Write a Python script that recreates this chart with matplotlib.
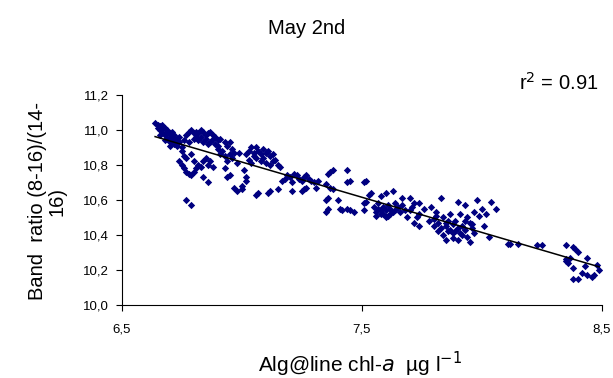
import numpy as np
import matplotlib
matplotlib.use("Agg")
import matplotlib.pyplot as plt

plt.rcParams['font.family'] = ['Liberation Sans', 'DejaVu Sans']

# ---- data (x = Alg@line chl-a, y = band ratio) ----
xa = [6.64, 6.65, 6.66, 6.66, 6.67, 6.68, 6.67, 6.69, 6.70, 6.68, 6.71, 6.70, 6.72,
      6.73, 6.71, 6.74, 6.72, 6.66, 6.69, 6.73, 6.75, 6.70, 6.74, 6.76, 6.75,
      6.65, 6.67, 6.69, 6.71, 6.73, 6.68, 6.70, 6.72]
ya = [11.04, 11.03, 11.02, 11.00, 11.03, 11.01, 10.99, 11.00, 10.98, 10.97, 10.99, 10.96, 10.97,
      10.95, 10.94, 10.93, 10.92, 10.97, 10.95, 10.91, 10.90, 10.91, 10.96, 10.94, 10.88,
      11.01, 11.01, 10.98, 10.97, 10.93, 10.94, 10.93, 10.95]

xb = [6.77, 6.78, 6.79, 6.80, 6.81, 6.82, 6.83, 6.84, 6.85, 6.86, 6.87, 6.88, 6.89,
      6.90, 6.91, 6.89, 6.87, 6.93, 6.95, 6.94, 6.80, 6.82, 6.84, 6.86, 6.78,
      6.90, 6.92, 6.91, 6.93, 6.95, 6.96, 6.94, 6.97, 6.99, 6.98, 6.96,
      6.81, 6.83, 6.85, 6.88, 6.90]
yb = [10.97, 10.99, 11.00, 10.98, 10.99, 10.98, 11.00, 10.99, 10.97, 10.98, 10.99, 10.97, 10.96,
      10.94, 10.95, 10.92, 10.93, 10.93, 10.93, 10.91, 10.95, 10.94, 10.93, 10.92, 10.93,
      10.89, 10.88, 10.86, 10.85, 10.86, 10.84, 10.82, 10.87, 10.87, 10.81, 10.89,
      10.96, 10.96, 10.95, 10.95, 10.91]

xc = [6.74, 6.75, 6.76, 6.77, 6.78, 6.79, 6.80, 6.81, 6.82, 6.84, 6.86, 6.85, 6.80,
      6.84, 6.86, 6.88, 6.77, 6.79, 6.77, 6.79, 6.93, 6.94, 6.95, 6.98, 6.97,
      6.76, 6.83, 6.87]
yc = [10.82, 10.80, 10.78, 10.76, 10.75, 10.74, 10.76, 10.78, 10.80, 10.82, 10.80, 10.84, 10.82,
      10.73, 10.70, 10.79, 10.84, 10.86, 10.60, 10.57, 10.78, 10.73, 10.74, 10.65, 10.67,
      10.85, 10.79, 10.82]

xd = [7.02, 7.03, 7.04, 7.05, 7.06, 7.07, 7.08, 7.09, 7.10, 7.11, 7.12, 7.13, 7.14,
      7.06, 7.08, 7.10, 7.12, 7.04, 7.15, 7.16, 7.03,
      7.01, 7.02, 7.02, 7.00, 7.00, 7.06, 7.07, 7.11, 7.12, 7.15, 7.21, 7.25, 7.26, 7.27,
      7.05, 7.09, 7.13]
yd = [10.86, 10.88, 10.90, 10.87, 10.90, 10.88, 10.86, 10.89, 10.87, 10.88, 10.85, 10.86, 10.83,
      10.84, 10.82, 10.81, 10.80, 10.81, 10.80, 10.79, 10.83,
      10.77, 10.71, 10.73, 10.66, 10.68, 10.63, 10.64, 10.64, 10.65, 10.66, 10.65, 10.65, 10.66, 10.67,
      10.85, 10.84, 10.82]

xe = [7.17, 7.18, 7.19, 7.20, 7.22, 7.23, 7.24, 7.26, 7.28, 7.29, 7.30, 7.31, 7.32,
      7.35, 7.36, 7.37, 7.38, 7.21, 7.35, 7.36, 7.35, 7.36, 7.25, 7.27]
ye = [10.71, 10.72, 10.74, 10.73, 10.75, 10.74, 10.72, 10.73, 10.72, 10.71, 10.70, 10.67, 10.71,
      10.69, 10.75, 10.76, 10.77, 10.70, 10.60, 10.61, 10.53, 10.55, 10.71, 10.74]

xf = [7.44, 7.44, 7.45, 7.37, 7.38, 7.40, 7.41, 7.42, 7.44, 7.45, 7.47, 7.51, 7.52,
      7.53, 7.54, 7.51, 7.52, 7.51,
      7.55, 7.56, 7.57, 7.58, 7.59, 7.60, 7.61, 7.62, 7.63, 7.57, 7.59, 7.61, 7.56,
      7.60, 7.58, 7.60, 7.63, 7.64, 7.65, 7.67, 7.70, 7.68, 7.70, 7.69, 7.72, 7.74,
      7.72, 7.74, 7.66, 7.71, 7.58, 7.62, 7.64, 7.67]
yf = [10.77, 10.70, 10.71, 10.67, 10.66, 10.60, 10.55, 10.54, 10.55, 10.54, 10.53, 10.70, 10.71,
      10.63, 10.64, 10.58, 10.59, 10.54,
      10.56, 10.53, 10.55, 10.52, 10.56, 10.54, 10.51, 10.55, 10.53, 10.58, 10.52, 10.57, 10.51,
      10.50, 10.62, 10.64, 10.65, 10.58, 10.56, 10.61, 10.61, 10.54, 10.54, 10.50, 10.58, 10.58,
      10.47, 10.45, 10.53, 10.56, 10.54, 10.52, 10.54, 10.57]

xg = [7.73, 7.74, 7.76, 7.79, 7.83, 7.81, 7.80, 7.82, 7.84, 7.85, 7.86, 7.87, 7.88,
      7.89, 7.90, 7.91, 7.92, 7.93, 7.84, 7.86, 7.83, 7.85, 7.88, 7.90, 7.92, 7.94,
      7.95, 7.96, 7.97, 7.90, 7.93, 7.98, 8.04, 8.06, 7.99, 8.01, 8.03, 7.87, 7.94,
      7.97, 8.00, 8.02, 7.80, 7.82, 7.89, 7.91, 7.95, 8.11,
      7.78, 7.81, 7.85, 7.88, 7.93, 7.96]
yg = [10.50, 10.52, 10.55, 10.56, 10.61, 10.51, 10.49, 10.47, 10.50, 10.45, 10.48, 10.43, 10.46,
      10.42, 10.44, 10.41, 10.45, 10.43, 10.40, 10.42, 10.44, 10.37, 10.38, 10.37, 10.40, 10.39,
      10.47, 10.46, 10.41, 10.59, 10.57, 10.60, 10.59, 10.55, 10.51, 10.45, 10.39, 10.52, 10.50,
      10.53, 10.55, 10.52, 10.45, 10.42, 10.48, 10.52, 10.36, 10.35,
      10.48, 10.53, 10.47, 10.41, 10.48, 10.44]

xh = [8.12, 8.15, 8.23, 8.25, 8.35, 8.38, 8.39, 8.40, 8.44, 8.35, 8.36, 8.35, 8.37,
      8.38, 8.43, 8.48, 8.49, 8.42, 8.44, 8.38, 8.40, 8.46, 8.47]
yh = [10.35, 10.35, 10.34, 10.34, 10.34, 10.33, 10.32, 10.30, 10.27, 10.26, 10.24, 10.25, 10.27,
      10.21, 10.22, 10.23, 10.20, 10.18, 10.17, 10.15, 10.15, 10.16, 10.17]

xticks = [6.5, 7.5, 8.5]
xtick_labels = ["6,5", "7,5", "8,5"]
yticks = [10.0, 10.2, 10.4, 10.6, 10.8, 11.0, 11.2]
ytick_labels = ["10,0", "10,2", "10,4", "10,6", "10,8", "11,0", "11,2"]
r2_text = "r$^2$ = 0.91"

x = np.array(xa + xb + xc + xd + xe + xf + xg + xh)
y = np.array(ya + yb + yc + yd + ye + yf + yg + yh)

fig = plt.figure(figsize=(6.13, 3.78), dpi=100)
ax = fig.add_axes([121.5 / 613, 1 - 305 / 378, 480 / 613, 210 / 378])

ax.scatter(x, y, marker='D', s=14, color='#000080', linewidths=0, zorder=2)

slope, intercept = np.polyfit(x, y, 1)
xl = np.array([x.min(), x.max()])
ax.plot(xl, slope * xl + intercept, color='black', lw=1.1, zorder=3)

ax.set_xlim(6.5, 8.5)
ax.set_ylim(10.0, 11.2)
ax.set_xticks(xticks)
ax.set_xticklabels(xtick_labels)
ax.set_yticks(yticks)
ax.set_yticklabels(ytick_labels)
for s in ['top', 'right']:
    ax.spines[s].set_visible(False)
for s in ['left', 'bottom']:
    ax.spines[s].set_linewidth(0.8)
ax.tick_params(axis='both', direction='out', length=4, width=0.8, labelsize=9.5)
ax.tick_params(axis='x', pad=9)
ax.tick_params(axis='y', pad=5)

fig.text(307 / 613, 1 - 29 / 378, "May 2nd", ha='center', va='center', fontsize=14.5)
fig.text(598 / 613, 1 - 83 / 378, r2_text, ha='right', va='center', fontsize=14.5)
fig.text(360 / 613, 1 - 364 / 378, "Alg@line chl-$a$  µg l$^{-1}$", ha='center', va='center',
         fontsize=15)
fig.text(47 / 613, 1 - 201 / 378, "Band  ratio (8-16)/(14-\n16)", rotation=90,
         ha='center', va='center', multialignment='center', fontsize=14.5, linespacing=1.0)

fig.savefig("out.png", dpi=100)
